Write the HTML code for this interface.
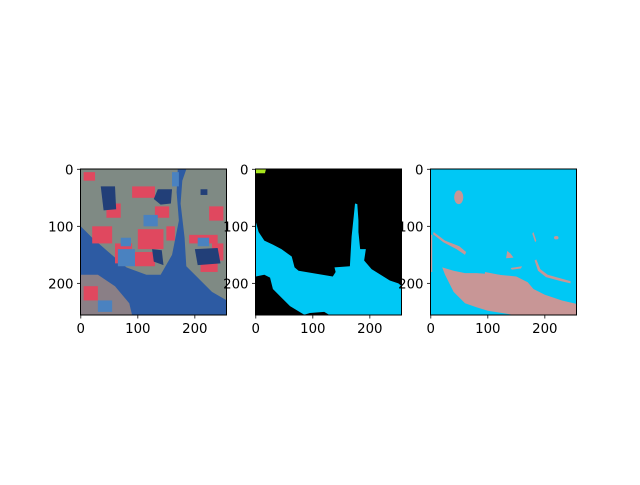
<!DOCTYPE html>
<html><head><meta charset="utf-8"><style>
html,body{margin:0;padding:0;background:#fff;}
svg text{font-family:"DejaVu Sans","Liberation Sans",sans-serif;font-size:13.3px;fill:#000;}
</style></head><body>
<svg id="fig" width="640" height="480" viewBox="0 0 640 480" xmlns="http://www.w3.org/2000/svg">
<rect width="640" height="480" fill="#fff"/>
<svg x="80.5" y="169" width="146" height="146" viewBox="-0.5 -0.5 256 256" preserveAspectRatio="none">
<rect x="-0.5" y="-0.5" width="256" height="256" fill="#2d5ba3"/>
<polygon fill="#7f8a84" points="0,0 170,0 168,40 172,90 160,150 140,185 115,185 80,172 45,142 20,120 0,100"/>
<polygon fill="#7f8a84" points="185,0 256,0 256,230 230,215 200,185 185,170 182,120 175,60 178,20"/>
<polygon fill="#8a7f86" points="0,185 30,185 60,205 85,235 90,256 0,256"/>
<g fill="#e0485f">
<rect x="90" y="30" width="40" height="20"/><rect x="45" y="60" width="25" height="25"/>
<rect x="20" y="100" width="35" height="30"/><rect x="100" y="105" width="45" height="35"/>
<rect x="60" y="130" width="30" height="35"/><rect x="130" y="65" width="25" height="20"/>
<rect x="190" y="115" width="50" height="15"/><rect x="210" y="165" width="30" height="15"/>
<rect x="5" y="205" width="25" height="25"/><rect x="5" y="5" width="20" height="15"/>
<rect x="95" y="145" width="35" height="25"/><rect x="225" y="65" width="25" height="25"/>
<rect x="150" y="100" width="15" height="25"/><rect x="230" y="130" width="20" height="30"/>
</g>
<g fill="#223f78">
<polygon points="135,35 160,35 158,60 140,62 128,52"/>
<polygon points="200,140 240,138 245,165 205,168"/>
<polygon points="35,30 60,30 62,70 40,72"/>
<polygon points="125,140 142,142 145,168 128,162"/>
<polygon points="210,35 222,35 222,45 210,45"/>
</g>
<g fill="#4a82c0">
<rect x="70" y="120" width="18" height="15"/><rect x="65" y="140" width="30" height="30"/>
<rect x="205" y="120" width="20" height="15"/><rect x="110" y="80" width="25" height="20"/>
<rect x="160" y="5" width="12" height="25"/><rect x="30" y="230" width="25" height="20"/>
</g>
</svg>
<svg x="255.5" y="169" width="146" height="146" viewBox="-0.5 -0.5 256 256" preserveAspectRatio="none">
<rect x="-0.5" y="-0.5" width="256" height="256" fill="#000"/>
<polygon fill="#00c8f5" points="0,92 5,110 15,125 30,132 45,140 63,153 68,172 75,178 135,188 140,180 138,172 165,170 168,118 172,80 174,60 178,61 180,90 180,110 183,140 193,140 190,160 203,175 235,195 250,200 256,205 256,256 130,256 120,250 95,252 85,255 60,240 40,220 30,210 25,190 15,185 0,188"/>
<polygon fill="#a8e61d" points="-0.5,-0.5 18,-0.5 16,7 -0.5,7"/>
</svg>
<svg x="430.5" y="169" width="146" height="146" viewBox="-0.5 -0.5 256 256" preserveAspectRatio="none">
<rect x="-0.5" y="-0.5" width="256" height="256" fill="#00c8f5"/>
<g fill="#c89696">
<polygon points="20,172 40,178 60,182 80,182 110,184 130,186 150,188 170,198 180,210 200,220 230,230 256,236 256,256 150,256 100,248 80,242 60,235 40,215 25,185"/>
<ellipse cx="49" cy="49" rx="8" ry="12"/>
<polygon points="134,143 140,148 145,155 132,156"/>
<rect x="-0.5" y="115" width="3" height="65"/>
<polygon points="5,110 25,125 50,135 62,145 60,150 45,140 22,128 4,114"/>
<polygon points="95,180 120,185 140,190 160,195 158,199 138,194 118,189 95,184"/>
<polygon points="185,158 192,175 205,185 230,192 245,196 245,200 228,196 202,189 188,178 182,160"/>
<polygon points="140,173 160,170 158,174 142,176"/>
<polygon points="180,110 185,125 183,128 178,113"/>
<ellipse cx="220" cy="120" rx="4" ry="3"/>
</g>
</svg>
<g id="axes"></g>
</svg>
<script>
const xTicks = [0, 100, 200];
const yTicks = [0, 100, 200];
const tickLabels = ["0", "100", "200"];
const panelLefts = [80.5, 255.5, 430.5];
const top0 = 169, size = 146, N = 256;
const ns = "http://www.w3.org/2000/svg";
const g = document.getElementById('axes');
function sc(v){ return (v + 0.5) * size / N; }
function mk(tag, attrs){ const e = document.createElementNS(ns, tag); for (const k in attrs) e.setAttribute(k, attrs[k]); g.appendChild(e); return e; }
panelLefts.forEach((L, p) => {
  const fr = mk('rect', {x:L, y:top0, width:size, height:size, fill:'none', stroke:'#000', 'stroke-width':1});
  
  
  xTicks.forEach((t, i) => {
    const x = L + sc(t);
    const ln = mk('line', {x1:x, x2:x, y1:top0+size, y2:top0+size+3.5, stroke:'#000', 'stroke-width':0.8});
    
    
    const tx = mk('text', {x:x, y:top0+size+18, 'text-anchor':'middle'});
    tx.textContent = tickLabels[i];
    
    
  });
  yTicks.forEach((t, i) => {
    const y = top0 + sc(t);
    const ln = mk('line', {x1:L-3.5, x2:L, y1:y, y2:y, stroke:'#000', 'stroke-width':0.8});
    
    
    const tx = mk('text', {x:L-7, y:y+5, 'text-anchor':'end'});
    tx.textContent = tickLabels[i];
    
    
  });
});
</script>
</body></html>
